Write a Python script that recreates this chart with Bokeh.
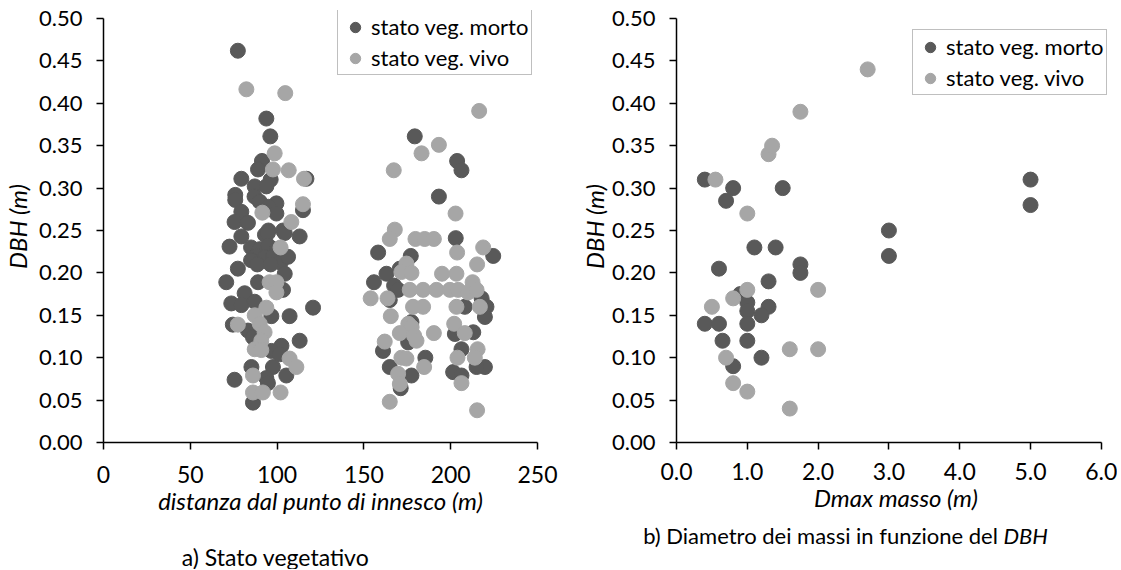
from bokeh.plotting import figure
from bokeh.layouts import row, column
from bokeh.models import (Legend, LegendItem, Label, Range1d, FixedTicker,
                          NumeralTickFormatter)
from bokeh.embed import file_html
from bokeh.resources import INLINE

# ---------------- data: panel a (distance vs DBH) ----------------
a_morto_x = [77.4, 93.8, 96.1, 91.3, 89, 116.9, 79.4, 96.3, 87.1, 93.8, 75.9, 75.9, 87, 90, 99.6, 95,
             114.9, 99.6, 79.4, 75.5, 83.2, 103.4, 95, 93, 79.4, 113, 94.7, 104.4, 72.6,
             85, 90, 95, 100, 88, 93, 98, 85, 102,
             106.3, 77.4, 88.6, 96.3, 104.4, 70.7, 89, 103.4, 81.3, 73.6, 79.4, 87.1, 120.7, 96.7,
             107.2, 74.5, 83.2, 86.1, 113, 102.5, 96.7, 101.5, 85.2, 97.6, 75.5, 105.3, 93.8, 94.7, 86.1,
             179.3, 203.7, 206.2, 193.2, 202.9, 158.2, 224.5, 177, 170.7, 163, 155.8, 167.4, 169.7,
             164.9, 217.8, 220.6, 219.7, 208.1, 177.4, 202.4, 213, 175.5, 161, 206.2, 185.4, 164.9,
             177.4, 219.7, 214.9, 201.4, 206.2, 171.2]
a_morto_y = [0.462, 0.382, 0.361, 0.332, 0.322, 0.311, 0.311, 0.31, 0.302, 0.302, 0.292, 0.286, 0.29, 0.284, 0.282, 0.278,
             0.274, 0.27, 0.272, 0.26, 0.259, 0.25, 0.25, 0.245, 0.243, 0.243, 0.247, 0.247, 0.231,
             0.23, 0.228, 0.232, 0.228, 0.22, 0.218, 0.22, 0.215, 0.212,
             0.219, 0.205, 0.21, 0.21, 0.199, 0.189, 0.189, 0.18, 0.176, 0.164, 0.162, 0.166, 0.159, 0.149,
             0.149, 0.139, 0.132, 0.124, 0.12, 0.114, 0.108, 0.104, 0.089, 0.089, 0.074, 0.079, 0.076, 0.07, 0.047,
             0.361, 0.332, 0.321, 0.29, 0.241, 0.224, 0.22, 0.22, 0.205, 0.199, 0.189, 0.185, 0.18,
             0.168, 0.17, 0.16, 0.148, 0.16, 0.142, 0.128, 0.13, 0.118, 0.108, 0.11, 0.1, 0.089,
             0.079, 0.089, 0.089, 0.083, 0.079, 0.064]
a_vivo_x = [82.3, 104.7, 98.6, 97.6, 106.7, 115.5, 114.9, 91.5, 108.2, 102, 95.7, 99.6, 99.6, 93.8, 87.1,
            77.4, 90, 92.8, 90.9, 87.1, 90.9, 107.2, 111.1, 86.1, 86.1, 91.8, 102,
            216.4, 193.2, 183.2, 167.2, 202.8, 167.8, 164.9, 179.7, 185, 190.3, 203.7, 218.7, 174.5,
            171.6, 177.4, 195, 203.3, 215.2, 212.6, 176.4, 184.1, 191.8, 199.5, 204.3, 210, 214.9,
            153.9, 163.6, 178.3, 184.1, 203.3, 216.8, 165.5, 175.6, 177.5, 170.7, 178.9, 180.3, 190.3,
            202, 208.1, 162, 215.5, 213.9, 203.9, 171.6, 174.5, 184.7, 169.7, 170.7, 206.2, 164.9, 215.2]
a_vivo_y = [0.4165, 0.412, 0.341, 0.322, 0.321, 0.311, 0.281, 0.271, 0.26, 0.23, 0.189, 0.189, 0.177, 0.159, 0.15,
            0.139, 0.14, 0.13, 0.12, 0.11, 0.109, 0.099, 0.089, 0.079, 0.059, 0.059, 0.059,
            0.391, 0.351, 0.341, 0.321, 0.27, 0.251, 0.24, 0.24, 0.24, 0.24, 0.224, 0.23, 0.211,
            0.201, 0.2, 0.199, 0.199, 0.21, 0.189, 0.18, 0.18, 0.18, 0.18, 0.18, 0.177, 0.18,
            0.17, 0.17, 0.16, 0.16, 0.16, 0.16, 0.149, 0.14, 0.136, 0.129, 0.126, 0.12, 0.129,
            0.14, 0.129, 0.119, 0.11, 0.1, 0.1, 0.1, 0.099, 0.089, 0.081, 0.069, 0.07, 0.048, 0.038]

# ---------------- data: panel b (Dmax masso vs DBH) ----------------
b_morto_x = [0.4, 0.8, 0.7, 1.5, 1.1, 1.4, 0.6, 1.75, 1.75, 1.3, 0.9, 1.0, 1.0, 1.3, 1.2, 0.4, 0.6, 1.0,
             0.65, 1.0, 1.2, 0.8, 5.0, 5.0, 3.0, 3.0]
b_morto_y = [0.31, 0.30, 0.285, 0.30, 0.23, 0.23, 0.205, 0.21, 0.20, 0.19, 0.175, 0.165, 0.155, 0.16, 0.15,
             0.14, 0.14, 0.14, 0.12, 0.12, 0.10, 0.09, 0.31, 0.28, 0.25, 0.22]
b_vivo_x = [0.55, 1.0, 1.3, 1.35, 1.75, 2.7, 1.0, 0.8, 0.5, 2.0, 1.6, 2.0, 0.7, 0.8, 1.0, 1.6]
b_vivo_y = [0.31, 0.27, 0.34, 0.35, 0.39, 0.44, 0.18, 0.17, 0.16, 0.18, 0.11, 0.11, 0.10, 0.07, 0.06, 0.04]

y_ticks = [0.0, 0.05, 0.10, 0.15, 0.20, 0.25, 0.30, 0.35, 0.40, 0.45, 0.50]
a_x_ticks = [0, 50, 100, 150, 200, 250]
b_x_ticks = [0, 1, 2, 3, 4, 5, 6]

labels = ["stato veg. morto", "stato veg. vivo"]
caption_a = "a) Stato vegetativo"
caption_b = "b) Diametro dei massi in funzione del "
caption_b_italic = "DBH"

DARK = "#595959"
LIGHT = "#a6a6a6"
FONT = "Lato"
FS = "23px"
TFS = "22px"
LFS = "24px"

PX_Y = 848.0          # pixels per DBH unit
EXTRA_TOP = 8         # frame head-room above 0.50 for the legend


def style(p, xticks, xfmt, xbounds):
    p.outline_line_color = None
    p.xgrid.visible = False
    p.ygrid.visible = False
    p.background_fill_color = "white"
    p.border_fill_color = "white"
    for ax in (p.xaxis[0], p.yaxis[0]):
        ax.axis_line_color = "black"
        ax.axis_line_width = 1.5
        ax.major_tick_line_color = "black"
        ax.major_tick_line_width = 1.5
        ax.major_tick_in = 0
        ax.major_tick_out = 7
        ax.minor_tick_line_color = None
        ax.major_label_text_font = FONT
        ax.major_label_text_font_size = FS
        ax.major_label_text_color = "black"
        ax.axis_label_text_font = FONT
        ax.axis_label_text_font_size = LFS
        ax.axis_label_text_font_style = "italic"
        ax.axis_label_text_color = "black"
    p.yaxis[0].ticker = FixedTicker(ticks=y_ticks)
    p.yaxis[0].formatter = NumeralTickFormatter(format="0.00")
    p.yaxis[0].bounds = (y_ticks[0], y_ticks[-1])
    p.yaxis[0].major_label_text_font_size = TFS
    p.yaxis[0].major_label_standoff = 14
    p.yaxis[0].axis_label = "DBH (m)"
    p.xaxis[0].ticker = FixedTicker(ticks=xticks)
    p.xaxis[0].formatter = NumeralTickFormatter(format=xfmt)
    p.xaxis[0].bounds = xbounds


def add_points(p, mx, my, vx, vy, loc):
    r1 = p.scatter(mx, my, size=15, fill_color=DARK, line_color=DARK)
    r2 = p.scatter(vx, vy, size=15, fill_color=LIGHT, line_color=LIGHT)
    leg = Legend(items=[LegendItem(label=labels[0], renderers=[r1]),
                        LegendItem(label=labels[1], renderers=[r2])],
                 location=loc, margin=0, padding=3, spacing=4,
                 glyph_width=28, glyph_height=26, label_height=26, label_standoff=2,
                 label_text_font=FONT, label_text_font_size=TFS, label_text_color="black",
                 border_line_color="#808080", border_line_width=1.5,
                 background_fill_color="white", background_fill_alpha=1.0)
    p.add_layout(leg)


H = 519
FH = 424 + EXTRA_TOP
Y_TOP = y_ticks[-1] + EXTRA_TOP / PX_Y

# ---------------- panel a ----------------
p1 = figure(width=557, height=H, frame_width=434, frame_height=FH,
            min_border_left=91, min_border_top=18 - EXTRA_TOP, min_border_right=32,
            min_border_bottom=H - 18 - 424,
            x_range=Range1d(0, 250), y_range=Range1d(0, Y_TOP),
            output_backend="svg", toolbar_location=None)
style(p1, a_x_ticks, "0", (0, 250))
p1.xaxis[0].axis_label = "distanza dal punto di innesco (m)"
p1.xaxis[0].major_label_standoff = 16
p1.xaxis[0].axis_label_standoff = 0
p1.yaxis[0].axis_label_standoff = 4
add_points(p1, a_morto_x, a_morto_y, a_vivo_x, a_vivo_y, (234, 367))

# ---------------- panel b ----------------
p2 = figure(width=548, height=H, frame_width=439, frame_height=FH,
            min_border_left=107, min_border_top=18 - EXTRA_TOP, min_border_right=2,
            min_border_bottom=H - 18 - 424,
            x_range=Range1d(0, 6.2), y_range=Range1d(0, Y_TOP),
            output_backend="svg", toolbar_location=None)
style(p2, b_x_ticks, "0.0", (0, 6))
p2.xaxis[0].axis_label = "Dmax masso (m)"
p2.xaxis[0].major_label_standoff = 13
p2.xaxis[0].axis_label_standoff = 0
p2.yaxis[0].axis_label_standoff = 0
add_points(p2, b_morto_x, b_morto_y, b_vivo_x, b_vivo_y, (236, 347))

# ---------------- captions strip (page-pixel coordinates) ----------------
p3 = figure(width=1105, height=50, x_range=Range1d(8, 1113), y_range=Range1d(570, 520),
            x_axis_type=None, y_axis_type=None, min_border=0,
            output_backend="svg", toolbar_location=None)
p3.outline_line_color = None
p3.xgrid.visible = False
p3.ygrid.visible = False
p3.add_layout(Label(x=283, y=557, text=caption_a, text_align="center", text_baseline="middle",
                    text_font=FONT, text_font_size=FS, text_color="black"))
p3.add_layout(Label(x=1011, y=536, text=caption_b, text_align="right", text_baseline="middle",
                    text_font=FONT, text_font_size=TFS, text_color="black"))
p3.add_layout(Label(x=1011, y=536, text=caption_b_italic, text_align="left", text_baseline="middle",
                    text_font=FONT, text_font_size=TFS, text_font_style="italic", text_color="black"))

layout = column(row(p1, p2), p3)
open("out.html", "w").write(file_html(layout, INLINE))
